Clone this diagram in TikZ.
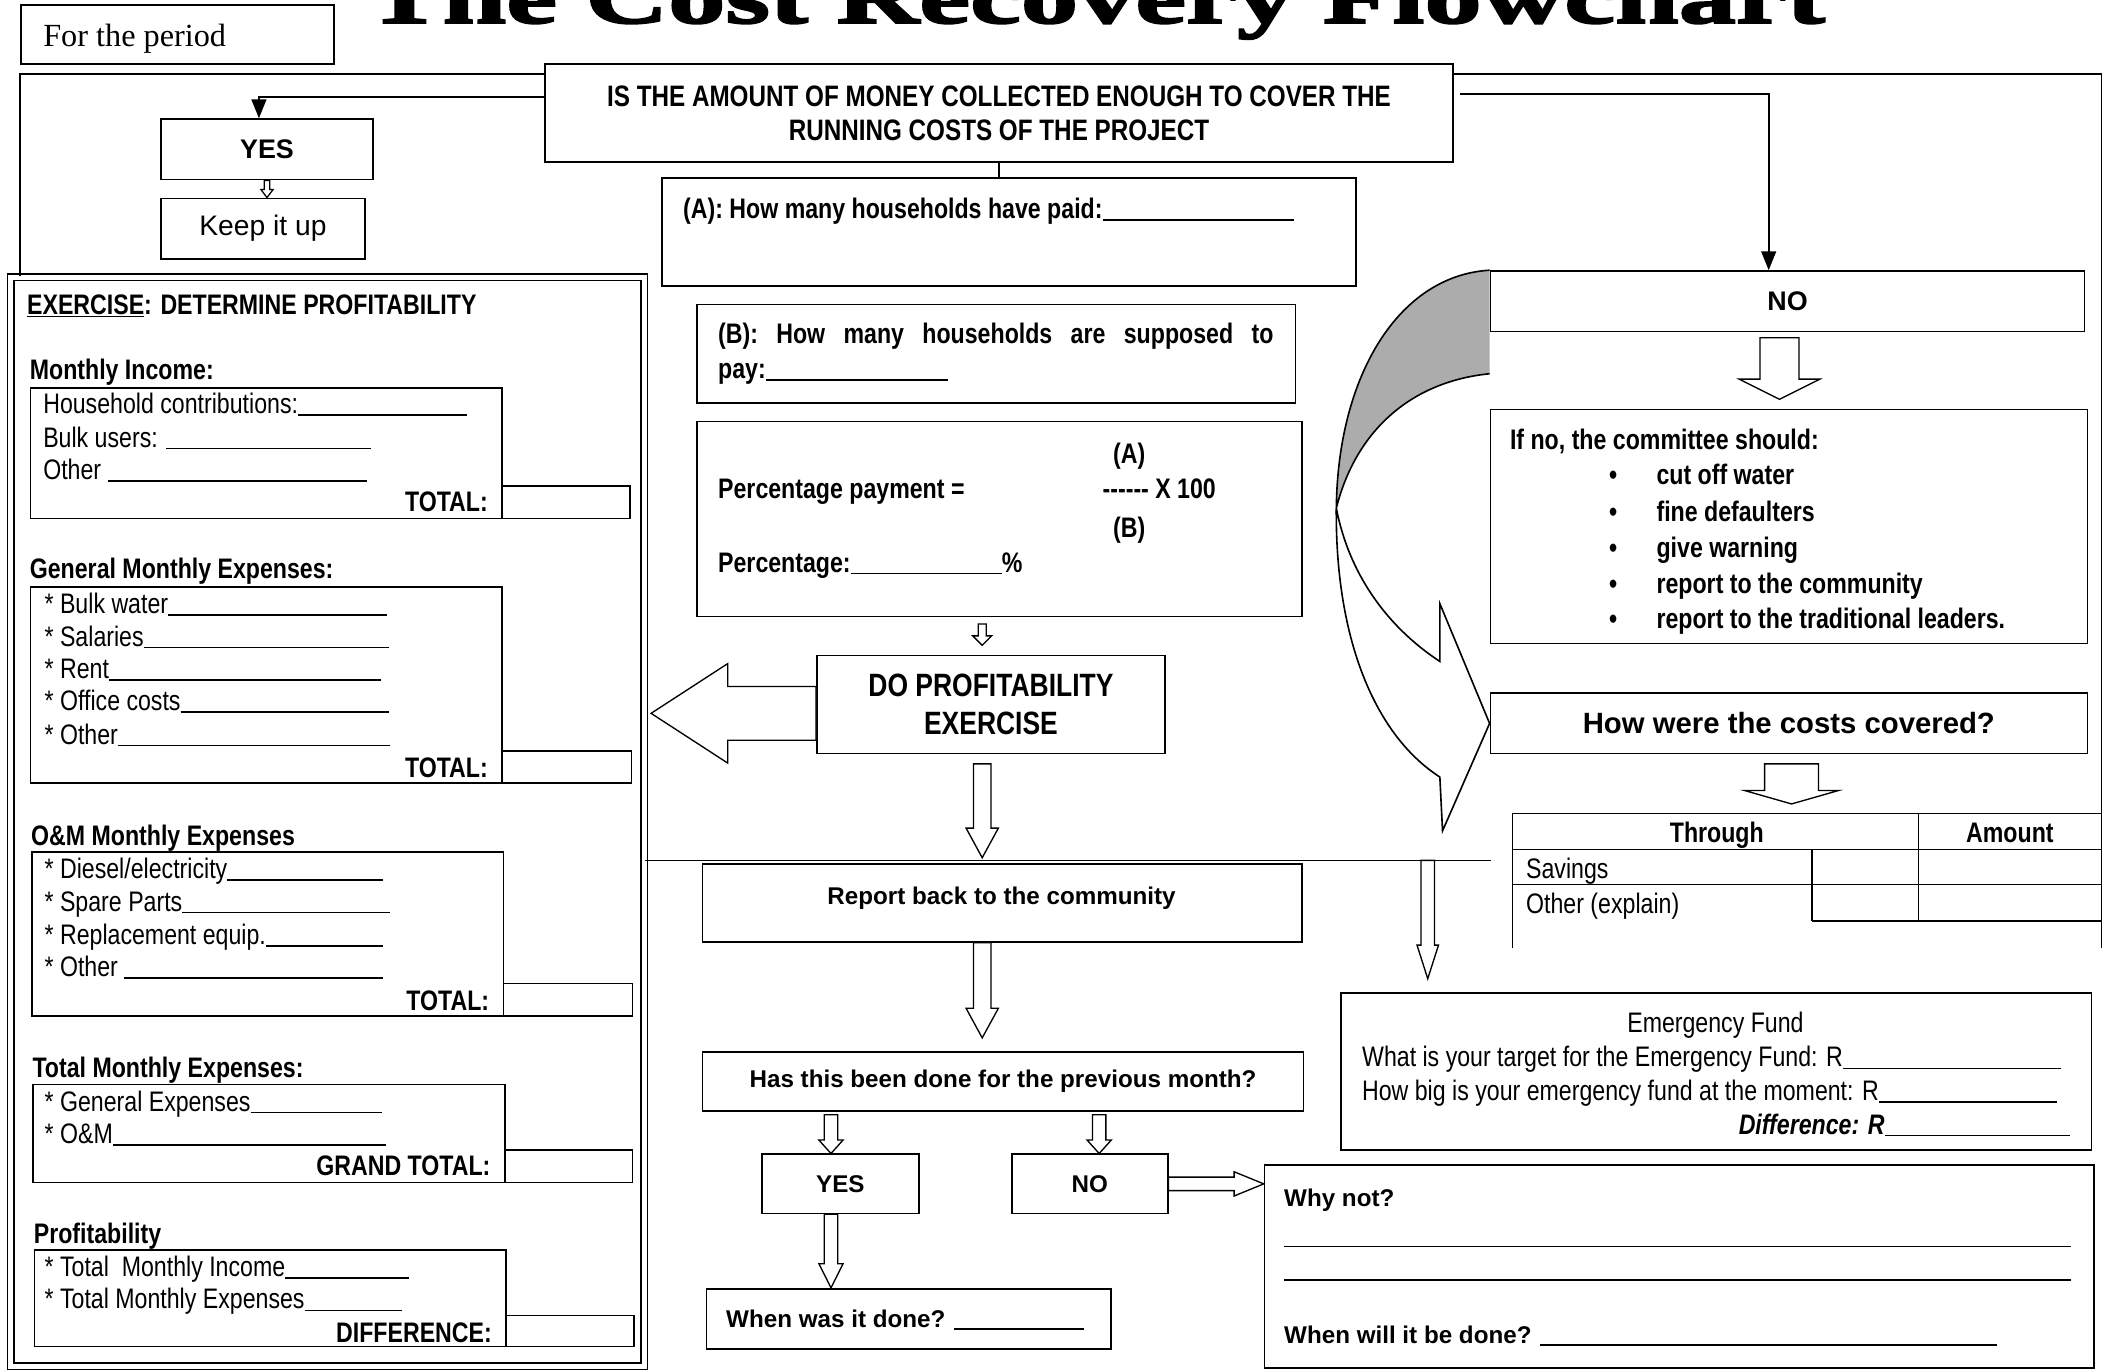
\documentclass[tikz,border=0pt]{standalone}
\usepackage{fontspec}
\setmainfont{Liberation Sans}
\newfontfamily\narrowfont[FakeStretch=0.82]{Liberation Sans}
\newfontfamily\periodfont{Liberation Serif}
\newfontfamily\titlefont[BoldFeatures={FakeStretch=1.52,FakeBold=3}]{Liberation Serif}
\usetikzlibrary{arrows.meta,calc}

% answer blanks
\newcommand\fillline{\leavevmode\leaders\hrule height -0.4pt depth 1.6pt\hfill\kern0pt}
\newcommand\blankto[2]{\makebox[#1][l]{#2\fillline}}

% hollow block arrows: from, to, half shaft, half head, head length
\newcommand\fatdown[5]{%
  \draw[hollow] let \p1=#1, \p2=#2 in
    (\x1-#3,\y1) -- (\x1-#3,\y2+#5) -- (\x1-#4,\y2+#5) -- (\x1,\y2)
    -- (\x1+#4,\y2+#5) -- (\x1+#3,\y2+#5) -- (\x1+#3,\y1) -- cycle;}
\newcommand\fatside[5]{%
  \draw[hollow] let \p1=#1, \p2=#2, \n1={sign(\x2-\x1)} in
    (\x1,\y1+#3) -- (\x2-\n1*#5,\y1+#3) -- (\x2-\n1*#5,\y1+#4) -- (\x2,\y1)
    -- (\x2-\n1*#5,\y1-#4) -- (\x2-\n1*#5,\y1-#3) -- (\x1,\y1-#3) -- cycle;}

\tikzset{
  box/.style={draw, line width=1.2pt, anchor=north west, inner sep=0pt},
  link/.style={line width=1.2pt},
  hollow/.style={draw, line width=1pt, fill=white, line join=miter},
  tip/.style={-{Triangle[length=14pt,width=11pt]}},
  nar/.style={anchor=mid west, inner sep=0pt, yshift=-5pt, font=\narrowfont\fontsize{21}{25}\selectfont},
  narb/.style={anchor=mid west, inner sep=0pt, yshift=-5pt, font=\narrowfont\bfseries\fontsize{21}{25}\selectfont},
  wideb/.style={inner sep=0pt, yshift=-5pt, font=\bfseries\fontsize{18}{22}\selectfont},
}

\begin{document}
\begin{tikzpicture}[x=1pt, y=-1pt]
\useasboundingbox (0,0) rectangle (1568,1019);

% heading
\node[anchor=base, inner sep=0pt, font=\titlefont\bfseries\fontsize{56}{60}\selectfont] (title) at (815,17) {The Cost Recovery Flowchart};
\node[box, minimum width=233pt, minimum height=44pt] (period) at (15,3) {};
\node[anchor=mid west, inner sep=0pt, yshift=-6pt, font=\periodfont\fontsize{24}{28}\selectfont] (periodtx) at (32,26) {For the period};

% main question
\node[box, minimum width=675pt, minimum height=73pt, align=center, font=\narrowfont\bfseries\fontsize{22}{25}\selectfont] (q) at (405,47)
  {IS THE AMOUNT OF MONEY COLLECTED ENOUGH TO COVER THE\\RUNNING COSTS OF THE PROJECT};

% yes branch
\node[box, minimum width=158pt, minimum height=45pt, font=\bfseries\fontsize{20}{24}\selectfont] (yestop) at (119,88) {YES};
\node[box, minimum width=152pt, minimum height=45pt, font=\fontsize{21}{25}\selectfont] (keep) at (119,147) {Keep it up};
\draw[link, tip] ($(q.north west)+(0,25)$) -| ($(yestop.north)+(-6,0)$);
\fatdown{(yestop.south)}{(keep.north)}{2pt}{4.5pt}{6pt}

% exercise panel
\node[box, double, double distance=3.7pt, line width=1.3pt, minimum width=471pt, minimum height=810pt] (ex) at (7.5,205.5) {};
\node[narb] (extitle) at (20,226) {\underline{EXERCISE}: DETERMINE PROFITABILITY};

\node[narb] (inchead) at (22,275) {Monthly Income:};
\node[box, minimum width=351pt, minimum height=97pt] (inc) at (22,288) {};
\node[box, minimum width=95pt, minimum height=24pt] (inctot) at (373,361) {};
\node[nar] at (32,300) {\blankto{315pt}{Household contributions:}};
\node[nar] at (32,325) {\blankto{244pt}{Bulk users: }};
\node[nar] at (32,349) {\blankto{241pt}{Other }};
\node[narb, anchor=mid east] at (363,373) {TOTAL:};

\node[narb] (genhead) at (22,423) {General Monthly Expenses:};
\node[box, minimum width=351pt, minimum height=146pt] (gen) at (22,436) {};
\node[box, minimum width=96pt, minimum height=24pt] (gentot) at (373,558) {};
\node[nar] at (33,449) {\blankto{255pt}{* Bulk water}};
\node[nar] at (33,473) {\blankto{256pt}{* Salaries}};
\node[nar] at (33,497) {\blankto{250pt}{* Rent}};
\node[nar] at (33,521) {\blankto{256pt}{* Office costs}};
\node[nar] at (33,546) {\blankto{257pt}{* Other}};
\node[narb, anchor=mid east] at (363,571) {TOTAL:};

\node[narb] (omhead) at (23,621) {O\&M Monthly Expenses};
\node[box, minimum width=351pt, minimum height=122pt] (om) at (23,633) {};
\node[box, minimum width=96pt, minimum height=24pt] (omtot) at (374,731) {};
\node[nar] at (33,646) {\blankto{252pt}{* Diesel/electricity}};
\node[nar] at (33,670) {\blankto{257pt}{* Spare Parts}};
\node[nar] at (33,695) {\blankto{252pt}{* Replacement equip.}};
\node[nar] at (33,719) {\blankto{252pt}{* Other }};
\node[narb, anchor=mid east] at (364,744) {TOTAL:};

\node[narb] (tothead) at (24,794) {Total Monthly Expenses:};
\node[box, minimum width=351pt, minimum height=73pt] (tot) at (24,806) {};
\node[box, minimum width=95pt, minimum height=24pt] (grand) at (375,855) {};
\node[nar] at (33,819) {\blankto{251pt}{* General Expenses}};
\node[nar] at (33,843) {\blankto{254pt}{* O\&M}};
\node[narb, anchor=mid east] at (365,867) {GRAND TOTAL:};

\node[narb] (profhead) at (25,917) {Profitability};
\node[box, minimum width=351pt, minimum height=72pt] (prof) at (25,929) {};
\node[box, minimum width=95pt, minimum height=23pt] (diff) at (376,978) {};
\node[nar] at (33,942) {\blankto{271pt}{* Total\ \ Monthly Income}};
\node[nar] at (33,966) {\blankto{266pt}{* Total Monthly Expenses}};
\node[narb, anchor=mid east] at (366,991) {DIFFERENCE:};

% frame round the sheet
\coordinate (frametl) at (15,55);
\coordinate (frametr) at (1563,55);
\coordinate (tabfoot) at (1563,705);
\draw[link] ($(q.north west)+(0,8)$) -- (frametl) -- (frametl |- ex.north);
\draw[link] ($(q.north east)+(0,8)$) -- (frametr) -- (tabfoot);

% payment questions
\node[box, minimum width=516pt, minimum height=80pt] (qa) at (492,132) {};
\node[narb] at (508,155) {\blankto{454pt}{(A): How many households have paid:}};
\draw[link] (q.south) -- (q.south |- qa.north);
\node[box, minimum width=445pt, minimum height=73pt] (qb) at (518,226) {};
\node[narb] at (534,248) {\makebox[413pt][s]{(B): How many households are supposed to}};
\node[narb] at (534,274) {\blankto{171pt}{pay:}};
\node[box, minimum width=450pt, minimum height=145pt] (perc) at (518,313) {};
\node[narb] at (534,363) {Percentage payment =};
\node[narb, anchor=mid] at (840,337) {(A)};
\node[narb] at (820,363) {------ X 100};
\node[narb, anchor=mid] at (840,392) {(B)};
\node[narb] at (534,418) {\blankto{211pt}{Percentage:}\%};

% profitability exercise and report back
\node[box, minimum width=259pt, minimum height=73pt, align=center, font=\narrowfont\bfseries\fontsize{24}{28}\selectfont] (do) at (607,487) {DO PROFITABILITY\\EXERCISE};
\fatdown{($(perc.south)+(-13,5)$)}{($(do.north)+(0,-7)$)}{3pt}{7pt}{7pt}
\fatside{($(do.west)+(0,6.5)$)}{($(ex.east)+(4.5,0)$)}{20pt}{37pt}{57pt}
\coordinate (ruleend) at (1109,640);
\draw[link] (ex.east |- ruleend) -- (ruleend);
\node[box, minimum width=446pt, minimum height=58pt] (report) at (522,642) {};
\node[wideb] at (745,663) {Report back to the community};
\fatdown{($(do.south)+(-6.5,7)$)}{($(report.north)+(0,-4)$)}{6.5pt}{12pt}{22pt}
\node[box, minimum width=447pt, minimum height=44pt, font=\bfseries\fontsize{18}{22}\selectfont] (prev) at (522,782) {Has this been done for the previous month?};
\fatdown{($(report.south)+(-15,0)$)}{($(prev.north)+(0,-10)$)}{6.5pt}{12pt}{22pt}
\node[box, minimum width=117pt, minimum height=44pt, font=\bfseries\fontsize{18}{22}\selectfont] (yesb) at (566,858) {YES};
\node[box, minimum width=116pt, minimum height=44pt, font=\bfseries\fontsize{18}{22}\selectfont] (nob) at (752,858) {NO};
\fatdown{($(yesb.north |- prev.south)+(-7,2)$)}{(yesb.north)}{5pt}{9pt}{10pt}
\fatdown{($(nob.north |- prev.south)+(7,2)$)}{(nob.north)}{5pt}{9pt}{10pt}
\node[box, minimum width=301pt, minimum height=45pt] (when) at (525,958) {};
\node[wideb, anchor=mid west] at (540,980) {\blankto{266pt}{When was it done? }};
\fatdown{($(yesb.south)+(-7,0)$)}{(when.north)}{5pt}{9pt}{18pt}
\node[box, minimum width=617pt, minimum height=151pt] (why) at (940,866) {};
\node[wideb, anchor=mid west] at (955,890) {Why not?};
\node[wideb, anchor=mid west] (whyline1) at (955,920) {\rule{585pt}{1.2pt}};
\node[wideb, anchor=mid west] (whyline2) at (955,945) {\rule{585pt}{1.2pt}};
\node[wideb, anchor=mid west] at (955,992) {\blankto{530pt}{When will it be done? }};
\fatside{(nob.east)}{(why.west)}{5pt}{9pt}{22pt}

% emergency fund
\node[box, minimum width=558pt, minimum height=117pt] (emerg) at (997,738) {};
\node[nar, anchor=mid] at (1276,760) {Emergency Fund};
\node[nar] at (1013,786) {\blankto{520pt}{What is your target for the Emergency Fund: R}};
\node[nar] at (1013,811) {\blankto{517pt}{How big is your emergency fund at the moment: R}};
\node[nar, anchor=mid east] at (1540,836) {{\bfseries\itshape Difference: R}\rule[-1.6pt]{138pt}{1.2pt}};
\coordinate (drop) at (1062,640);
\fatdown{(drop)}{($(emerg.north west)+(65,-10)$)}{5pt}{8pt}{25pt}

% no branch
\draw[link, fill=gray!65] (1108,201) .. controls (1040,205) and (995,280) .. (994,378)
   .. controls (1008,322) and (1048,284) .. (1108,278);
\node[box, minimum width=442pt, minimum height=45pt, font=\bfseries\fontsize{20}{24}\selectfont] (notop) at (1108,201) {NO};
\draw[link, tip] ($(q.north east)+(5,23)$) -| ($(notop.north)+(-14,0)$);
\node[box, minimum width=444pt, minimum height=174pt] (ifno) at (1108,304) {};
\fatdown{($(notop.south)+(-6,4)$)}{($(ifno.north)+(0,-7)$)}{14.5pt}{30pt}{15pt}
\node[narb] at (1123,327) {If no, the committee should:};
\foreach \y/\item in {353/cut off water, 380/fine defaulters, 407/give warning, 434/report to the community, 460/report to the traditional leaders.} {
  \node[narb, anchor=mid] at (1200,\y) {\textbullet};
  \node[narb] at (1232,\y) {\item};
}
\node[box, minimum width=444pt, minimum height=45pt, font=\bfseries\fontsize{21.8}{25}\selectfont] (how) at (1108,515) {How were the costs covered?};
\draw[link] (994,378) .. controls (993,470) and (1020,545) .. (1071,578) -- (1073,618) -- (how.west)
   -- (1071,449) -- (1071,492) .. controls (1030,465) and (1003,425) .. (994,378);

% table of sources
\coordinate (tabtop) at (1332,605);
\fatdown{($(how.south)+(2,7)$)}{($(tabtop)+(0,-7)$)}{20pt}{35pt}{10pt}
\draw[link] (1125,705) -- (1125,605) -- (1563,605);
\draw[link] (1125,632) -- (1563,632);
\draw[link] (1125,658) -- (1563,658);
\draw[link] (1348,685) -- (1563,685);
\draw[link] (1427,605) -- (1427,685);
\draw[link] (1348,632) -- (1348,685);
\node[narb, anchor=mid] at (1277,619) {Through};
\node[narb, anchor=mid] at (1495,619) {Amount};
\node[nar] at (1135,646) {Savings};
\node[nar] at (1135,672) {Other (explain)};
\end{tikzpicture}
\end{document}
